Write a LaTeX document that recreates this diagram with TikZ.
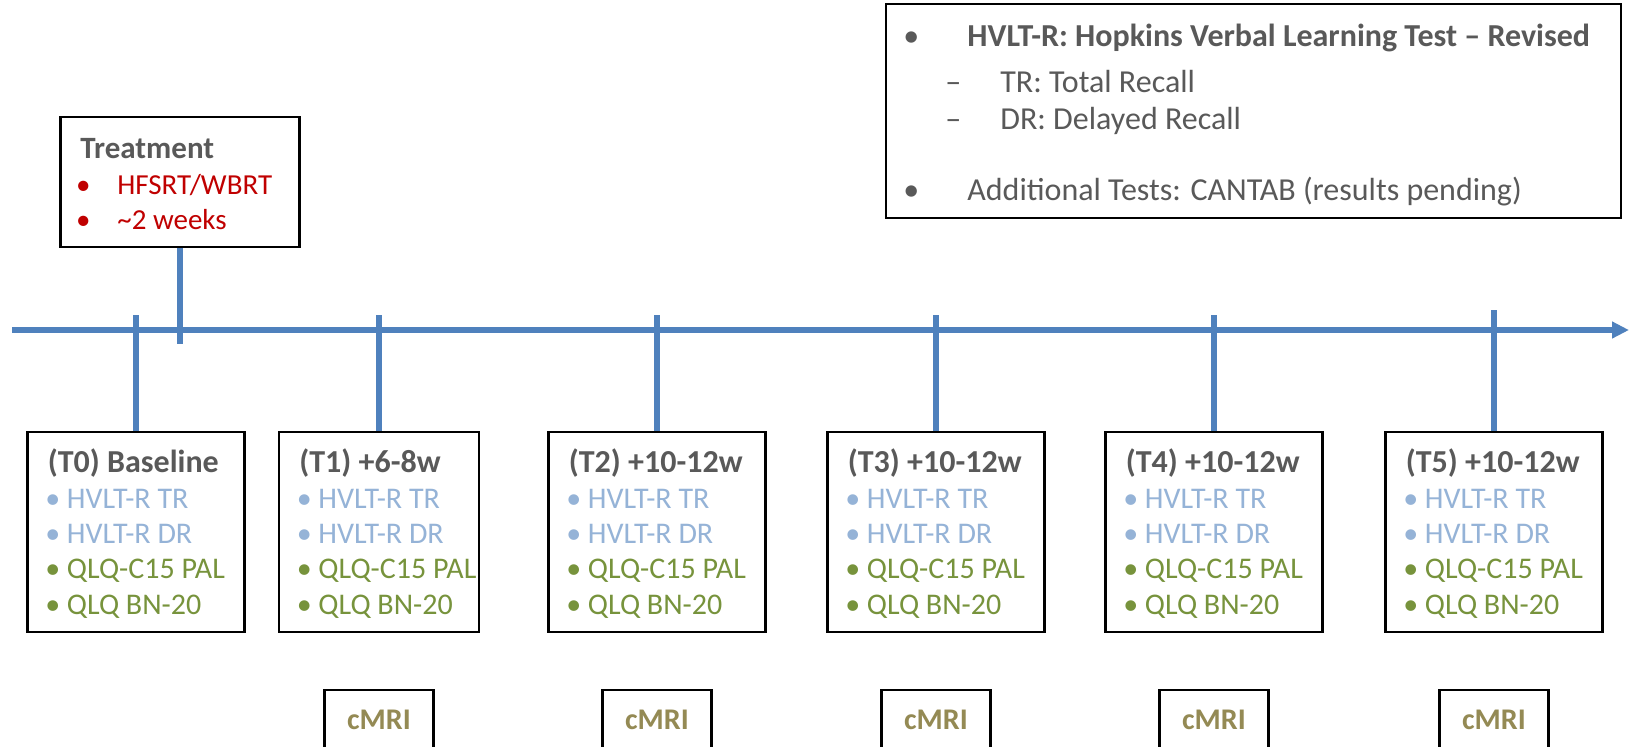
\documentclass[tikz,border=0pt]{standalone}
\usepackage{fontspec}
\setmainfont{Carlito}
\usetikzlibrary{arrows.meta}
\definecolor{axisblue}{HTML}{4F81BD}
\definecolor{hdrgrey}{HTML}{595959}
\definecolor{trtred}{HTML}{C00000}
\definecolor{hvblue}{HTML}{95B3D7}
\definecolor{qlgreen}{HTML}{77933C}
\definecolor{mrigold}{HTML}{948A54}
\newcommand\bulat[2]{\llap{\makebox[#1][c]{#2}}}
\tikzset{
  frame/.style={draw=black, line width=1.25pt, fill=white, inner sep=0pt},
  axisline/.style={draw=axisblue, line width=3pt},
  hdr/.style={anchor=base west, inner sep=0pt, text=hdrgrey, font=\fontsize{16}{19}\selectfont\bfseries},
  itm/.style={anchor=base west, inner sep=0pt, font=\fontsize{15}{18}\selectfont},
  trthdr/.style={hdr, font=\fontsize{15.5}{18}\selectfont\bfseries},
  trtitm/.style={itm, text=trtred, font=\fontsize{14.5}{17}\selectfont},
  leg/.style={anchor=base west, inner sep=0pt, text=hdrgrey, font=\fontsize{16}{19}\selectfont},
  mri/.style={anchor=base, inner sep=0pt, text=mrigold, font=\fontsize{15}{18}\selectfont\bfseries}
}
\newcommand\tpoint[5]{% name, center x, width px, header, tick top y
  \node[frame, minimum width={#3*0.5pt}, minimum height=100pt] (#1) at (#2,532) {};
  \coordinate (#1top) at (#2,#5);
  \draw[axisline] (#1) -- (#1top);
  \node[hdr] (#1h) at (#2-#3/2+20,472) {#4};
  \node[itm, text=hvblue] (#1a) at (#2-#3/2+39,508) {\bulat{14pt}{•}HVLT-R TR};
  \node[itm, text=hvblue] (#1b) at (#2-#3/2+39,543) {\bulat{14pt}{•}HVLT-R DR};
  \node[itm, text=qlgreen] (#1c) at (#2-#3/2+39,578) {\bulat{14pt}{•}QLQ-C15 PAL};
  \node[itm, text=qlgreen] (#1d) at (#2-#3/2+39,614) {\bulat{14pt}{•}QLQ BN-20};
}
\newcommand\mribox[2]{% name, center x
  \node[frame, minimum width=54.5pt, minimum height=60pt] (#1) at (#2,750) {};
  \node[mri] (#1t) at (#2,729) {cMRI};
}
\begin{document}
\begin{tikzpicture}[x=0.5pt,y=-0.5pt]
\clip (0,0) rectangle (1630,746);
\fill[white] (0,0) rectangle (1630,746);
% time axis
\coordinate (axstart) at (12,330);
\coordinate (axend) at (1629,330);
\draw[axisline, -{Triangle[length=8.5pt,width=8pt]}] (axstart) -- (axend);
% treatment
\node[frame, minimum width=119.5pt, minimum height=65pt] (trt) at (180,182) {};
\coordinate (trtbot) at (180,344);
\draw[axisline] (trt) -- (trtbot);
\node[trthdr] (trth) at (80,158) {Treatment};
\node[trtitm] (trta) at (117,194) {\bulat{34pt}{•}HFSRT/WBRT};
\node[trtitm] (trtb) at (117,229) {\bulat{34pt}{•}\textasciitilde2 weeks};
% time points
\tpoint{t0}{136}{217}{(T0) Baseline}{315}
\tpoint{t1}{379}{200}{(T1) +6-8w}{315}
\tpoint{t2}{657}{217}{(T2) +10-12w}{315}
\tpoint{t3}{936}{217}{(T3) +10-12w}{315}
\tpoint{t4}{1214}{217}{(T4) +10-12w}{315}
\tpoint{t5}{1494}{217}{(T5) +10-12w}{310}
% cMRI
\mribox{m1}{379}
\mribox{m2}{657}
\mribox{m3}{936}
\mribox{m4}{1214}
\mribox{m5}{1494}
% legend
\node[frame, line width=1.4pt, minimum width=367.5pt, minimum height=107pt] (lg) at (1253.5,111) {};
\node[leg, font=\fontsize{16}{19}\selectfont\bfseries] (lga) at (967,46) {\bulat{56pt}{\mdseries•}HVLT-R: Hopkins Verbal Learning Test – Revised};
\node[leg] (lgb) at (1000,92) {\bulat{47pt}{–}TR: Total Recall};
\node[leg] (lgc) at (1000,129) {\bulat{47pt}{–}DR: Delayed Recall};
\node[leg] (lgd) at (967,200) {\bulat{56pt}{•}Additional Tests: CANTAB (results pending)};
\end{tikzpicture}
\end{document}
